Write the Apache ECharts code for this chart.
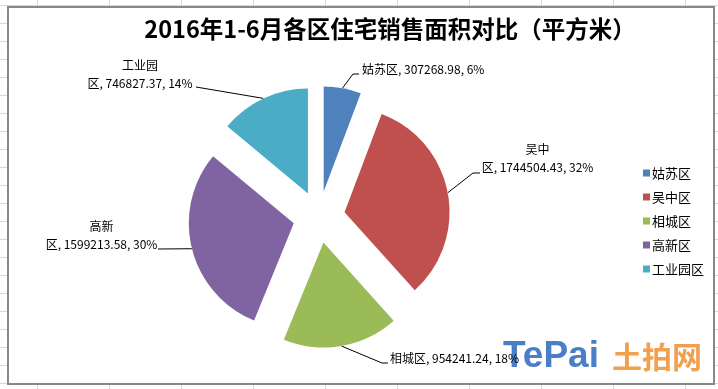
<!DOCTYPE html>
<html>
<head>
<meta charset="utf-8">
<script src="https://cdn.jsdelivr.net/npm/echarts@6/dist/echarts.min.js"></script>
<style>
html,body{margin:0;padding:0;width:718px;height:389px;overflow:hidden;}
body{
  background-color:#fff;
  background-image:
    repeating-linear-gradient(to right, transparent 0, transparent 37px, #d8d8d8 37px, #d8d8d8 38px, transparent 38px, transparent 72px),
    repeating-linear-gradient(to bottom, transparent 0, transparent 5px, #d8d8d8 5px, #d8d8d8 6px, transparent 6px, transparent 18px);
  background-size: 72px 100%, 100% 18px;
}
#box{position:absolute;left:7px;top:6px;width:704px;height:375px;border:2px solid #888;background:#fff;}
#chart{width:704px;height:375px;}
</style>
</head>
<body>
<div id="box"><div id="chart"></div></div>
<script>
const titleText = '2016年1-6月各区住宅销售面积对比（平方米）';
const categories = ['姑苏区', '吴中区', '相城区', '高新区', '工业园区'];
const values = [307268.98, 1744504.43, 954241.24, 1599213.58, 746827.37];
const colors = ['#4f81bd', '#c0504d', '#9bbb59', '#8064a2', '#4bacc6'];
const wrapName = [false, true, false, true, true];
// label placement (anchor, canvas px) and leader bend points
const labelPos = [
  {x: 353, y: 61, align: 'left'},
  {x: 528.5, y: 150.5, align: 'center'},
  {x: 381, y: 350, align: 'left'},
  {x: 92.5, y: 227.5, align: 'center'},
  {x: 131, y: 66, align: 'center'}
];
const leaderEnds = [
  [[344, 66], [350, 66]],
  [[464, 165], [471, 165]],
  [[373, 355], [379, 355]],
  [[149, 241], [149, 241]],
  [[187, 79], [187, 79]]
];
const PIE_CENTER = [310, 209], PIE_R = 105, EXPLODE = 26;

const chart = echarts.init(document.getElementById('chart'));
const labelFmt = p => {
  const i = p.dataIndex;
  const nm = wrapName[i] ? p.name.slice(0, -1) + '\n' + p.name.slice(-1) : p.name;
  return nm + ', ' + p.value.toFixed(2) + ', ' + p.percent + '%';
};
chart.setOption({
  animation: false,
  title: {
    text: titleText, left: 376, top: 4, textAlign: 'center',
    textStyle: {fontFamily: '"Noto Sans CJK SC"', fontWeight: 'bold', fontSize: 23.5, color: '#000'}
  },
  legend: {
    orient: 'vertical', left: 629, top: 153, itemWidth: 7, itemHeight: 7, icon: 'rect', itemGap: 10,
    textStyle: {fontFamily: '"Noto Sans CJK SC"', fontSize: 13, lineHeight: 14, color: '#000', padding: [0,0,0,-3]},
    data: categories
  },
  graphic: [
    {type: 'text', left: 494, top: 330, style: {text: 'TePai', fill: '#4a7fc6', font: 'bold 37px "Liberation Sans"'}},
    {type: 'text', left: 603, top: 334, style: {text: '土拍网', fill: '#f2a050', font: 'bold 30px "Noto Sans CJK SC"'}}
  ],
  series: [{
    type: 'pie', center: PIE_CENTER, radius: PIE_R, startAngle: 90, clockwise: true,
    selectedMode: 'multiple', selectedOffset: EXPLODE, percentPrecision: 0,
    emphasis: {disabled: true}, silent: true,
    select: {itemStyle: {borderWidth: 0}},
    label: {show: false}, labelLine: {show: false},
    data: categories.map((n, i) => ({name: n, value: values[i], selected: true, itemStyle: {color: colors[i]}}))
  }, {
    type: 'pie', center: PIE_CENTER, radius: PIE_R, startAngle: 90, clockwise: true,
    percentPrecision: 0, silent: true, emphasis: {disabled: true}, legendHoverLink: false,
    itemStyle: {color: 'rgba(0,0,0,0)'},
    label: {
      show: true, position: 'outside', color: '#000', fontSize: 12, lineHeight: 18,
      fontFamily: '"Noto Sans CJK SC"', formatter: labelFmt
    },
    labelLine: {show: true, lineStyle: {color: '#000', width: 1}},
    labelLayout: p => {
      const lp = labelPos[p.dataIndex];
      const le = leaderEnds[p.dataIndex];
      const p0 = p.labelLinePoints[0];
      const vx = p0[0] - PIE_CENTER[0], vy = p0[1] - PIE_CENTER[1];
      const len = Math.sqrt(vx * vx + vy * vy);
      const start = [p0[0] + vx / len * EXPLODE, p0[1] + vy / len * EXPLODE];
      return {
        x: lp.x, y: lp.y, align: lp.align, verticalAlign: 'middle',
        labelLinePoints: [start, le[0], le[1]]
      };
    },
    data: categories.map((n, i) => ({name: n, value: values[i]}))
  }]
});
</script>
</body>
</html>
